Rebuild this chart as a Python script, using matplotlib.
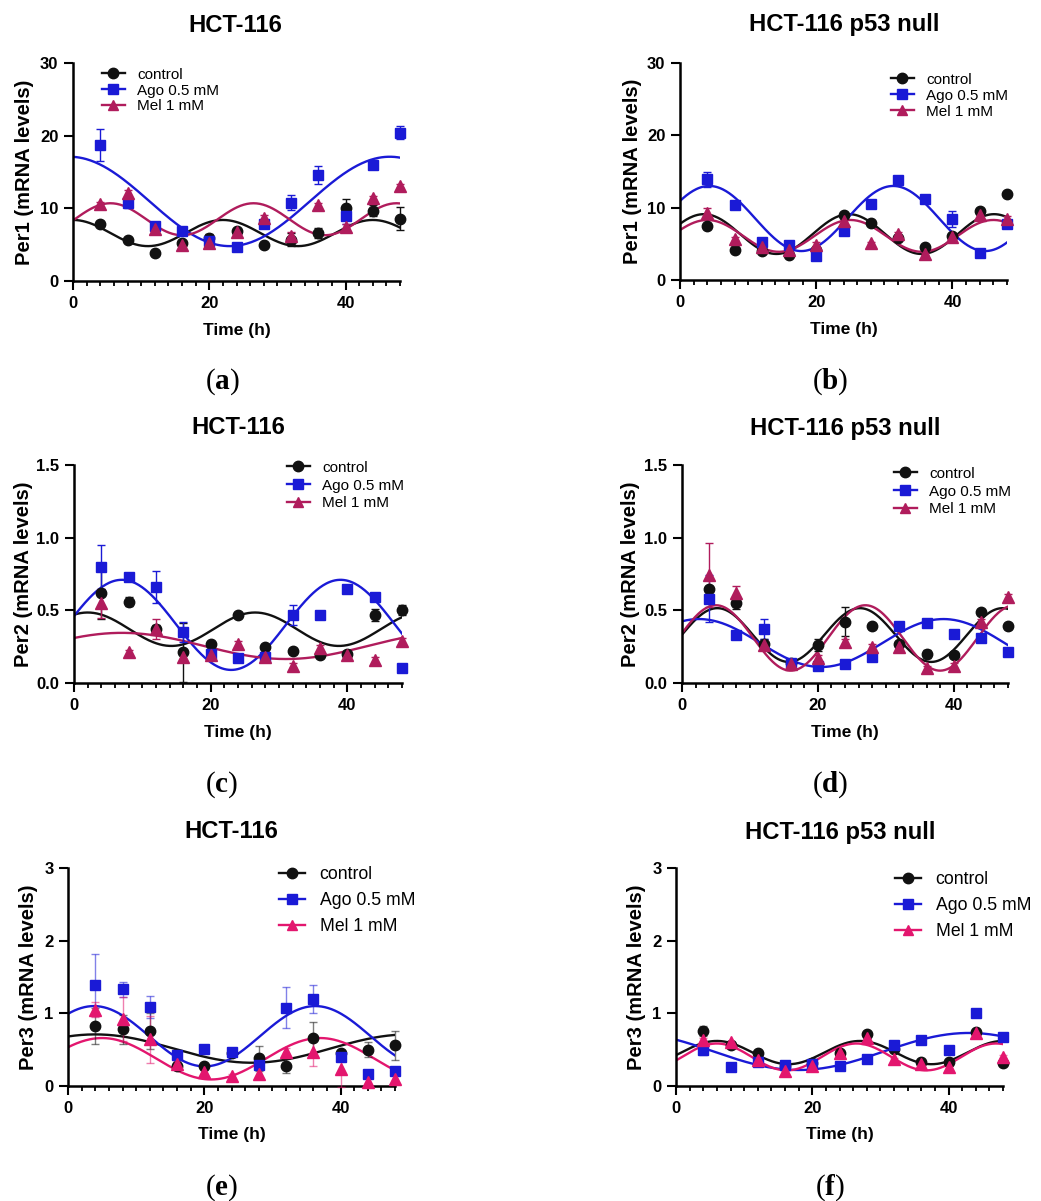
import matplotlib.pyplot as plt
import numpy as np
from matplotlib.lines import Line2D

plt.rcParams['font.family'] = ['Liberation Sans', 'DejaVu Sans']
plt.rcParams['mathtext.fontset'] = 'custom'
plt.rcParams['mathtext.bf'] = 'Liberation Serif:bold'
plt.rcParams['mathtext.rm'] = 'Liberation Serif'

W, H = 1041, 1201

time_h = [4, 8, 12, 16, 20, 24, 28, 32, 36, 40, 44, 48]
series_names = ["control", "Ago 0.5 mM", "Mel 1 mM"]

# Per1, HCT-116
per1_wt_ctrl = [7.9, 5.6, 3.9, 5.2, 5.9, 6.9, 4.9, 5.7, 6.6, 10.1, 9.7, 8.6]
per1_wt_ctrl_err = [0.3, 0.3, 0.2, 0.3, 0.6, 0.3, 0.2, 0.9, 0.7, 1.2, 0.8, 1.6]
per1_wt_ago = [18.7, 10.8, 7.6, 6.9, 5.5, 4.7, 7.8, 10.8, 14.6, 8.9, 16.0, 20.4]
per1_wt_ago_err = [2.2, 0.8, 0.5, 0.5, 0.3, 0.3, 0.5, 1.0, 1.2, 1.0, 0.6, 0.9]
per1_wt_mel = [10.6, 12.1, 7.2, 4.9, 5.2, 6.7, 8.7, 6.2, 10.4, 7.5, 11.4, 13.1]
per1_wt_mel_err = [0.3, 0.4, 0.4, 0.3, 0.3, 0.3, 0.4, 0.6, 0.3, 0.4, 0.3, 0.3]

# Per1, HCT-116 p53 null
per1_ko_ctrl = [7.4, 4.1, 4.0, 3.5, 4.1, 9.0, 7.9, 5.8, 4.5, 6.1, 9.6, 11.9]
per1_ko_ctrl_err = [0.3, 0.2, 0.2, 0.2, 0.3, 0.4, 0.3, 0.3, 0.2, 0.3, 0.3, 0.3]
per1_ko_ago = [13.9, 10.4, 5.2, 4.8, 3.3, 6.8, 10.5, 13.8, 11.2, 8.4, 3.8, 7.7]
per1_ko_ago_err = [1.0, 0.3, 0.4, 0.3, 0.3, 0.4, 0.3, 0.3, 0.3, 1.1, 0.2, 0.3]
per1_ko_mel = [9.2, 5.7, 4.5, 4.2, 4.9, 8.1, 5.1, 6.4, 3.6, 6.0, 9.0, 8.5]
per1_ko_mel_err = [0.8, 0.3, 0.2, 0.2, 0.3, 0.3, 0.2, 0.3, 0.2, 0.3, 0.3, 0.3]

# Per2, HCT-116
per2_wt_ctrl = [0.62, 0.56, 0.37, 0.21, 0.27, 0.47, 0.25, 0.22, 0.19, 0.20, 0.47, 0.50]
per2_wt_ctrl_err = [0.18, 0.03, 0.03, 0.20, 0.02, 0.02, 0.02, 0.02, 0.02, 0.02, 0.04, 0.035]
per2_wt_ago = [0.80, 0.73, 0.66, 0.35, 0.20, 0.17, 0.18, 0.47, 0.47, 0.65, 0.59, 0.10]
per2_wt_ago_err = [0.15, 0.02, 0.11, 0.07, 0.03, 0.02, 0.02, 0.07, 0.02, 0.02, 0.02, 0.02]
per2_wt_mel = [0.55, 0.21, 0.37, 0.18, 0.19, 0.27, 0.18, 0.12, 0.24, 0.19, 0.16, 0.29]
per2_wt_mel_err = [0.10, 0.02, 0.07, 0.02, 0.02, 0.02, 0.02, 0.02, 0.02, 0.02, 0.02, 0.02]

# Per2, HCT-116 p53 null
per2_ko_ctrl = [0.65, 0.55, 0.27, 0.14, 0.26, 0.42, 0.39, 0.27, 0.20, 0.19, 0.49, 0.39]
per2_ko_ctrl_err = [0.02, 0.04, 0.03, 0.02, 0.04, 0.10, 0.02, 0.02, 0.03, 0.02, 0.02, 0.02]
per2_ko_ago = [0.58, 0.33, 0.37, 0.14, 0.12, 0.13, 0.18, 0.39, 0.41, 0.34, 0.31, 0.21]
per2_ko_ago_err = [0.16, 0.03, 0.07, 0.02, 0.02, 0.02, 0.02, 0.02, 0.02, 0.02, 0.02, 0.02]
per2_ko_mel = [0.74, 0.62, 0.26, 0.13, 0.17, 0.28, 0.25, 0.25, 0.10, 0.12, 0.42, 0.59]
per2_ko_mel_err = [0.22, 0.05, 0.02, 0.02, 0.02, 0.02, 0.02, 0.02, 0.02, 0.02, 0.02, 0.02]

# Per3, HCT-116
per3_wt_ctrl = [0.83, 0.78, 0.76, 0.28, 0.27, 0.46, 0.38, 0.28, 0.66, 0.45, 0.50, 0.56]
per3_wt_ctrl_err = [0.25, 0.20, 0.25, 0.02, 0.05, 0.05, 0.17, 0.10, 0.22, 0.05, 0.10, 0.20]
per3_wt_ago = [1.39, 1.33, 1.09, 0.43, 0.51, 0.47, 0.29, 1.08, 1.20, 0.40, 0.16, 0.21]
per3_wt_ago_err = [0.43, 0.10, 0.15, 0.05, 0.03, 0.03, 0.05, 0.28, 0.19, 0.05, 0.03, 0.03]
per3_wt_mel = [1.05, 0.92, 0.64, 0.30, 0.19, 0.14, 0.17, 0.47, 0.47, 0.24, 0.06, 0.10]
per3_wt_mel_err = [0.10, 0.30, 0.32, 0.05, 0.05, 0.03, 0.05, 0.05, 0.20, 0.25, 0.05, 0.05]

# Per3, HCT-116 p53 null
per3_ko_ctrl = [0.76, 0.56, 0.46, 0.27, 0.31, 0.45, 0.71, 0.51, 0.33, 0.33, 0.75, 0.32]
per3_ko_ctrl_err = [0.07, 0.02, 0.02, 0.02, 0.02, 0.02, 0.02, 0.02, 0.02, 0.02, 0.02, 0.02]
per3_ko_ago = [0.50, 0.26, 0.33, 0.29, 0.30, 0.27, 0.37, 0.56, 0.63, 0.50, 1.00, 0.67]
per3_ko_ago_err = [0.07, 0.02, 0.02, 0.02, 0.02, 0.02, 0.02, 0.02, 0.02, 0.02, 0.02, 0.02]
per3_ko_mel = [0.63, 0.60, 0.36, 0.20, 0.27, 0.45, 0.66, 0.37, 0.30, 0.26, 0.73, 0.40]
per3_ko_mel_err = [0.03, 0.02, 0.02, 0.02, 0.02, 0.02, 0.02, 0.02, 0.02, 0.02, 0.02, 0.02]

# cosinor fit: (mesor, amplitude, period, peak time)
fit_per1_wt = [(6.6, 1.8, 22, 0), (10.95, 6.15, 47, 46.5), (8.5, 2.2, 21, 5.5)]
fit_per1_ko = [(6.35, 2.75, 21.3, 3.5), (8.5, 4.5, 27, 4.3), (6.1, 2.2, 21, 4)]
fit_per2_wt = [(0.37, 0.115, 24.5, 2), (0.40, 0.31, 32, 7), (0.255, 0.09, 48, 7)]
fit_per2_ko = [(0.33, 0.185, 21, 5.2), (0.275, 0.165, 36, 2.5), (0.31, 0.225, 22, 5)]
fit_per3_wt = [(0.515, 0.195, 46, 4), (0.685, 0.415, 32.5, 3.8), (0.375, 0.285, 32, 5)]
fit_per3_ko = [(0.46, 0.16, 21, 6), (0.475, 0.255, 50, 43), (0.40, 0.185, 20.5, 6)]

black = "#111111"
blue = "#1a1ad6"
mel_dark = "#b01c5c"
mel_pink = "#e3166e"

panels = [
    dict(box=(73, 63, 400, 281), title="HCT-116", tpos=(235, 25), gene="Per1", ylpos=25,
         ymax=30, ystep=10, ylabels=["0", "10", "20", "30"],
         data=[(per1_wt_ctrl, per1_wt_ctrl_err), (per1_wt_ago, per1_wt_ago_err), (per1_wt_mel, per1_wt_mel_err)],
         fit=fit_per1_wt, mel=mel_dark, ealpha=1.0, leg=(102, 77, 11, 0.12), tag="a", tagpos=(222, 382)),
    dict(box=(680, 63, 1007, 280), title="HCT-116 p53 null", tpos=(844, 25), gene="Per1", ylpos=632,
         ymax=30, ystep=10, ylabels=["0", "10", "20", "30"],
         data=[(per1_ko_ctrl, per1_ko_ctrl_err), (per1_ko_ago, per1_ko_ago_err), (per1_ko_mel, per1_ko_mel_err)],
         fit=fit_per1_ko, mel=mel_dark, ealpha=1.0, leg=(891, 82, 11, 0.12), tag="b", tagpos=(830, 382)),
    dict(box=(74, 465, 402, 683), title="HCT-116", tpos=(238, 428), gene="Per2", ylpos=24,
         ymax=1.5, ystep=0.5, ylabels=["0.0", "0.5", "1.0", "1.5"],
         data=[(per2_wt_ctrl, per2_wt_ctrl_err), (per2_wt_ago, per2_wt_ago_err), (per2_wt_mel, per2_wt_mel_err)],
         fit=fit_per2_wt, mel=mel_dark, ealpha=1.0, leg=(287, 470, 11, 0.25), tag="c", tagpos=(222, 785)),
    dict(box=(682, 465, 1008, 683), title="HCT-116 p53 null", tpos=(845, 428), gene="Per2", ylpos=631,
         ymax=1.5, ystep=0.5, ylabels=["0.0", "0.5", "1.0", "1.5"],
         data=[(per2_ko_ctrl, per2_ko_ctrl_err), (per2_ko_ago, per2_ko_ago_err), (per2_ko_mel, per2_ko_mel_err)],
         fit=fit_per2_ko, mel=mel_dark, ealpha=1.0, leg=(894, 476, 11, 0.25), tag="d", tagpos=(830, 785)),
    dict(box=(68, 868, 395, 1086), title="HCT-116", tpos=(231, 831), gene="Per3", ylpos=29,
         ymax=3, ystep=1, ylabels=["0", "1", "2", "3"],
         data=[(per3_wt_ctrl, per3_wt_ctrl_err), (per3_wt_ago, per3_wt_ago_err), (per3_wt_mel, per3_wt_mel_err)],
         fit=fit_per3_wt, mel=mel_pink, ealpha=0.55, leg=(279, 877, 12.7, 0.5), tag="e", tagpos=(222, 1188)),
    dict(box=(676, 868, 1003, 1086), title="HCT-116 p53 null", tpos=(840, 832), gene="Per3", ylpos=637,
         ymax=3, ystep=1, ylabels=["0", "1", "2", "3"],
         data=[(per3_ko_ctrl, per3_ko_ctrl_err), (per3_ko_ago, per3_ko_ago_err), (per3_ko_mel, per3_ko_mel_err)],
         fit=fit_per3_ko, mel=mel_pink, ealpha=0.55, leg=(895, 882, 12.7, 0.5), tag="f", tagpos=(830, 1188)),
]

markers = ["o", "s", "^"]

fig = plt.figure(figsize=(W / 100, H / 100), dpi=100)
t_fit = np.linspace(0, 48, 300)

for p in panels:
    l, t, r, b = p["box"]
    ax = fig.add_axes([l / W, 1 - b / H, (r - l) / W, (b - t) / H])
    colors = [black, blue, p["mel"]]

    for (m, a, per, pk), c in zip(p["fit"], colors):
        ax.plot(t_fit, m + a * np.cos(2 * np.pi * (t_fit - pk) / per), color=c, lw=1.7, zorder=2)

    for (vals, errs), c, mk in zip(p["data"], colors, markers):
        ax.errorbar(time_h, vals, yerr=errs, fmt=mk, color=c, ms=7.5 if mk != "^" else 8,
                    ecolor=c, elinewidth=1.0, capsize=3, capthick=1.0,
                    clip_on=False, zorder=3)
        if p["ealpha"] < 1:
            ax.containers[-1].lines[2][0].set_alpha(p["ealpha"])
            for cap in ax.containers[-1].lines[1]:
                cap.set_alpha(p["ealpha"])

    ax.set_xlim(0, 48)
    ax.set_ylim(0, p["ymax"])
    ax.set_xticks([0, 20, 40])
    ax.set_xticks(np.arange(0, 49, 2), minor=True)
    yt = np.arange(0, p["ymax"] + p["ystep"] / 2, p["ystep"])
    ax.set_yticks(yt)
    ax.set_yticklabels(p["ylabels"])
    for s in ["top", "right"]:
        ax.spines[s].set_visible(False)
    for s in ["left", "bottom"]:
        ax.spines[s].set_linewidth(1.8)
    ax.tick_params(axis="both", which="major", length=6.5, width=1.5, labelsize=12, pad=4)
    ax.tick_params(axis="x", which="minor", length=3.5, width=1.3)
    for lab in ax.get_xticklabels() + ax.get_yticklabels():
        lab.set_fontweight("bold")

    fig.text(p["tpos"][0] / W, 1 - p["tpos"][1] / H, p["title"], ha="center", va="center",
             fontsize=17.2, fontweight="bold")
    fig.text(p["ylpos"] / W, 1 - ((t + b) / 2) / H, p["gene"] + " (mRNA levels)", rotation=90,
             ha="center", va="center", fontsize=14.5, fontweight="bold")
    fig.text(((l + r) / 2) / W, 1 - (b + 49) / H, "Time (h)", ha="center", va="center",
             fontsize=12.5, fontweight="bold")
    fig.text(p["tagpos"][0] / W, 1 - p["tagpos"][1] / H, r"($\mathbf{" + p["tag"] + "}$)",
             ha="center", va="center", fontsize=21, family="Liberation Serif")

    lx, ly, lfs, lsp = p["leg"]
    handles = [Line2D([], [], color=c, marker=mk, ms=7.5, lw=1.7) for c, mk in zip(colors, markers)]
    fpx = lfs * 100 / 72
    ax.legend(handles, series_names, loc="upper left", frameon=False, fontsize=lfs,
              bbox_to_anchor=(lx / W, 1 - (ly - 0.6 * fpx) / H), bbox_transform=fig.transFigure,
              borderpad=0, borderaxespad=0, handlelength=1.5, handletextpad=0.8,
              labelspacing=lsp)

fig.savefig("out.png", dpi=100)
